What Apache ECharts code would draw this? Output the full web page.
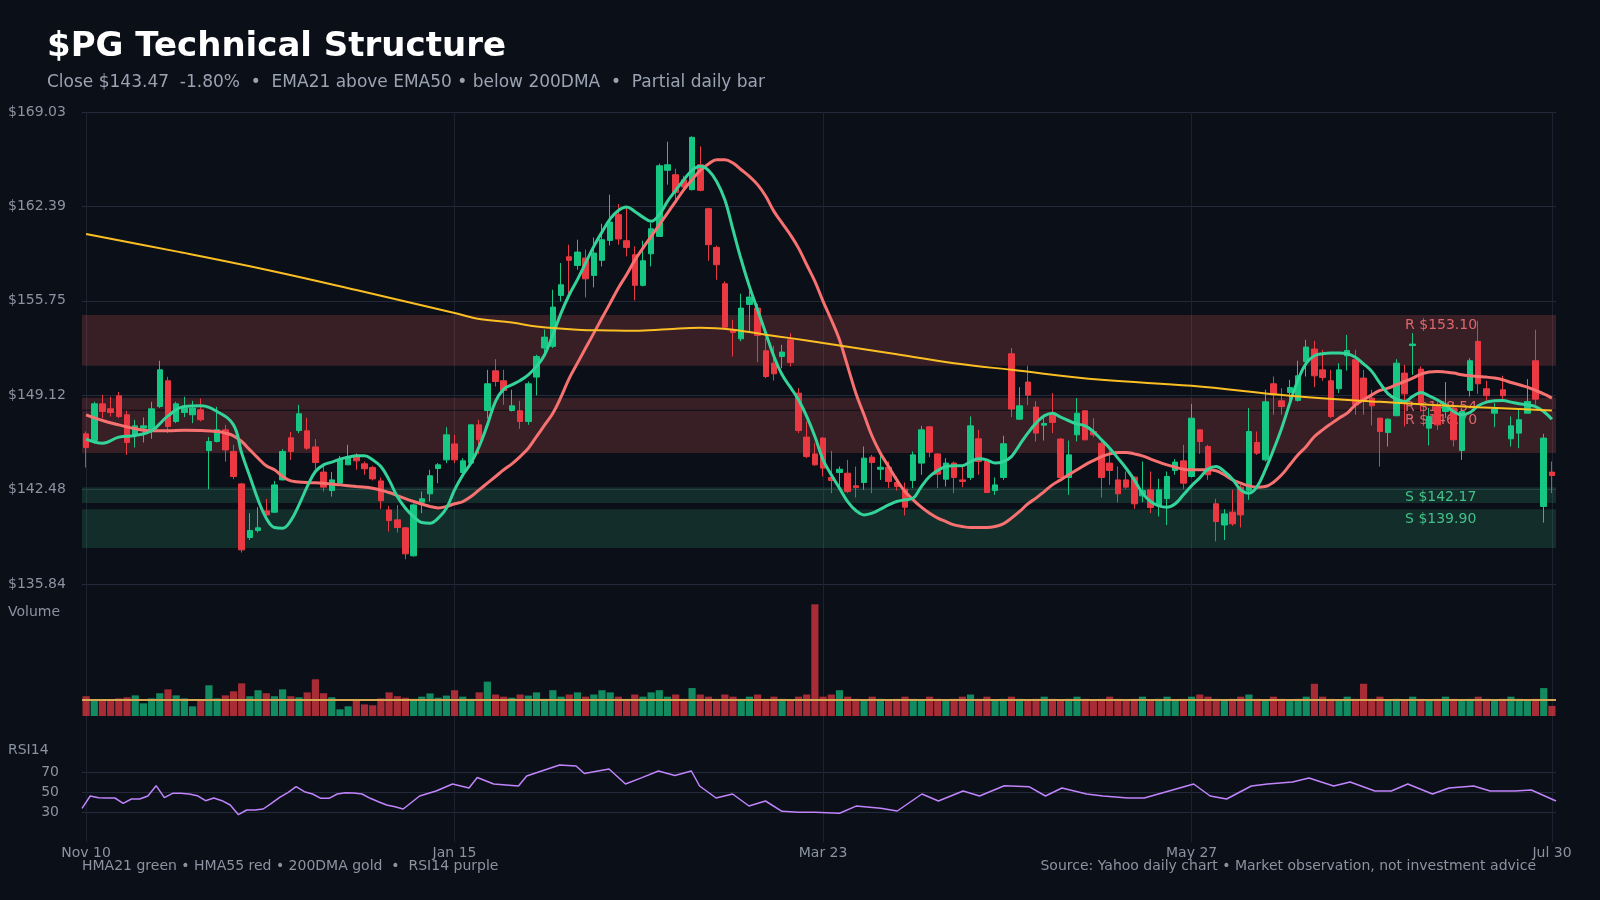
<!DOCTYPE html>
<html><head><meta charset="utf-8">
<script src="https://cdn.jsdelivr.net/npm/echarts@6.0.0/dist/echarts.min.js"></script>
<style>html,body{margin:0;padding:0;background:#0b0f17;}#chart{width:1600px;height:900px;}</style>
</head><body><div id="chart"></div>
<script>
// ---------- DATA ----------
const titleText = '$PG Technical Structure';
const subtitleText = 'Close $143.47  -1.80%  \u2022  EMA21 above EMA50 \u2022 below 200DMA  \u2022  Partial daily bar';
const legendText = 'HMA21 green \u2022 HMA55 red \u2022 200DMA gold  \u2022  RSI14 purple';
const sourceText = 'Source: Yahoo daily chart \u2022 Market observation, not investment advice';
const startDate = '2025-11-10', endDate = '2026-07-30';
const holidays = ['2025-11-27','2025-12-25','2026-01-01','2026-01-19','2026-02-16','2026-04-03','2026-05-25','2026-06-19','2026-07-03'];
const priceTicks = [135.84, 142.48, 149.12, 155.75, 162.39, 169.03];
const rsiTicks = [30, 50, 70];

// [open, high, low, close]
const ohlc = [
[146.40,146.57,144.03,145.44],[145.93,148.65,145.90,148.51],[148.51,149.14,147.50,147.97],[148.16,149.00,147.62,147.90],[149.07,149.35,147.50,147.62],
[147.74,148.02,144.92,145.79],[146.28,147.39,145.44,146.96],[146.80,147.55,145.79,146.96],[146.63,148.65,146.05,148.16],[148.32,151.54,148.21,150.90],
[150.13,150.41,146.45,146.92],[147.27,148.65,147.15,148.51],[147.90,149.00,147.57,148.21],[147.74,148.72,147.15,148.21],[148.09,148.88,147.27,147.39],
[145.23,146.17,142.51,145.86],[145.86,148.30,145.79,146.68],[146.68,147.03,144.45,145.27],[145.16,145.63,143.21,143.40],[142.88,142.95,138.05,138.24],
[139.11,140.82,138.94,139.60],[139.60,141.24,139.46,139.79],[140.98,141.83,140.58,140.70],[140.89,143.09,140.82,142.81],[143.16,145.32,143.12,145.16],
[146.12,146.54,144.57,145.16],[146.63,148.44,146.45,147.81],[146.61,147.53,145.27,145.39],[145.48,146.03,143.91,144.38],[143.71,144.34,142.34,142.65],
[142.41,143.71,141.99,143.16],[142.93,144.85,142.88,144.57],[144.22,145.63,144.22,144.80],[144.80,145.04,143.87,144.50],[144.29,144.45,143.52,143.94],
[144.03,144.15,143.12,143.23],[143.09,143.33,141.12,141.69],[141.05,141.33,139.53,140.30],[140.35,141.39,139.46,139.81],[139.79,139.85,137.58,137.96],
[137.82,141.50,137.77,141.40],[141.59,142.34,140.82,141.83],[142.18,143.87,141.64,143.45],[143.96,144.34,142.93,144.22],[144.57,146.87,144.34,146.33],
[145.69,146.33,144.34,144.57],[143.68,144.69,143.59,144.50],[144.34,147.05,144.29,147.03],[147.03,147.39,144.99,145.98],[148.04,150.90,147.46,149.92],
[150.83,151.65,149.73,150.08],[150.13,150.90,148.44,149.45],[148.04,149.50,147.97,148.37],[148.02,148.72,146.75,147.27],[147.27,150.08,147.03,149.92],
[150.39,151.96,149.10,151.84],[152.43,153.72,151.89,153.20],[152.55,156.53,152.43,155.31],[156.13,158.41,155.71,156.88],[158.85,159.70,156.13,158.60],
[158.24,160.05,157.94,159.18],[158.76,159.35,155.99,157.30],[157.54,160.21,156.70,159.11],[158.60,161.17,158.17,160.05],[160.00,163.21,159.65,161.29],
[161.81,162.56,159.70,160.10],[159.98,162.32,158.88,159.51],[158.99,159.58,155.78,156.84],[156.84,159.98,156.77,158.57],[159.06,161.22,158.17,160.82],
[160.28,165.40,160.24,165.25],[164.93,166.94,163.92,165.32],[164.62,165.04,162.86,163.38],[164.27,164.55,163.61,163.75],[163.57,167.32,163.52,167.25],
[165.32,166.61,163.45,163.52],[162.23,162.30,158.57,159.70],[159.51,159.63,157.23,158.29],[156.95,157.12,153.76,153.90],[153.67,154.42,151.84,153.53],
[153.08,156.25,152.90,155.24],[155.50,156.46,153.60,156.02],[155.24,155.55,151.44,153.32],[152.24,153.13,150.32,150.43],[151.37,152.59,150.15,150.62],
[151.84,152.66,151.02,152.15],[153.01,153.48,151.14,151.42],[149.26,149.61,146.45,146.63],[146.17,147.27,144.69,144.80],[144.99,145.74,144.15,144.22],
[146.10,146.15,143.40,143.99],[143.33,145.20,142.23,143.12],[143.68,144.10,142.58,143.91],[143.63,144.57,142.23,142.34],[142.74,144.10,141.92,142.62],
[142.98,145.51,142.46,144.69],[144.76,144.92,142.23,144.38],[143.91,144.97,143.16,144.05],[144.05,144.45,142.58,143.05],[142.98,143.40,142.41,142.70],
[142.51,142.98,140.66,141.24],[143.12,145.16,142.58,144.92],[144.34,146.96,143.52,146.68],[146.89,146.95,144.76,145.11],[144.99,145.04,142.58,143.56],
[143.21,144.69,142.69,144.34],[144.34,144.45,142.23,143.33],[143.16,144.10,142.65,143.05],[143.33,147.62,143.16,146.96],[146.05,146.68,143.52,144.45],
[144.45,144.52,142.25,142.27],[142.41,143.33,142.11,142.81],[143.33,146.26,143.16,145.70],[152.03,152.43,147.57,148.14],[147.43,149.68,147.39,148.37],
[150.04,151.19,148.42,149.12],[148.28,148.70,145.86,146.45],[147.01,147.74,145.93,147.13],[147.74,149.26,146.45,147.20],[146.03,146.10,143.28,143.33],
[143.33,145.93,142.11,144.92],[146.33,148.91,145.86,147.85],[148.02,148.05,145.95,145.98],[146.56,147.50,146.17,146.33],[145.74,145.98,141.92,143.33],
[144.34,145.51,142.81,143.82],[143.16,144.10,141.57,142.18],[143.16,143.75,142.53,142.65],[143.35,143.40,141.12,141.48],[142.04,144.45,141.59,142.41],
[142.46,143.75,140.82,141.22],[141.33,143.24,140.59,142.46],[141.85,143.75,139.99,143.40],[143.82,144.62,143.52,144.41],[144.50,145.63,142.51,142.93],
[143.40,148.51,143.33,147.50],[146.68,146.70,144.99,145.86],[145.51,145.63,143.16,143.52],[141.48,141.83,138.83,140.23],[139.99,141.10,138.94,140.77],
[140.89,142.46,139.93,140.07],[142.65,142.81,139.81,140.70],[142.41,148.21,141.76,146.56],[145.79,146.56,144.92,145.04],[144.57,149.50,144.45,148.65],
[149.92,150.43,147.74,149.14],[148.72,149.61,147.74,148.32],[149.31,150.20,148.28,149.66],[148.75,151.54,148.67,150.48],[151.49,153.01,150.43,152.50],
[152.36,152.94,149.68,150.48],[150.90,152.31,150.13,150.36],[150.13,150.90,147.50,147.62],[149.57,151.37,149.26,150.90],[151.89,153.36,150.85,152.26],
[151.61,152.31,147.74,148.44],[150.32,150.90,147.74,148.67],[148.91,149.50,146.99,148.37],[147.50,147.55,144.10,146.56],[146.49,147.50,145.51,147.43],
[147.67,151.65,147.67,151.37],[150.67,151.26,146.92,149.21],[152.61,153.48,150.55,152.71],[150.95,151.14,147.97,148.56],[146.80,148.21,145.58,147.62],
[148.32,148.67,146.68,147.03],[147.97,150.04,147.50,148.32],[148.21,148.67,145.51,145.98],[145.23,148.21,144.57,147.97],[149.45,151.72,149.03,151.54],
[152.90,154.35,149.21,149.92],[149.57,150.13,148.67,149.08],[147.85,148.56,146.87,148.14],[149.50,150.48,148.75,149.08],[146.05,147.62,145.51,146.96],
[146.45,148.09,145.39,147.39],[147.85,150.25,147.85,148.67],[151.54,153.72,148.44,148.84],[141.29,146.40,140.16,146.10],[143.71,144.45,142.23,143.47]
];

// volume, millions of shares
const volumeM = [
9.2,7.3,7.3,7.3,8.2,8.7,9.6,5.9,8.2,10.6, 12.4,9.6,8.2,4.5,7.3,14.3,8.2,9.6,11.5,15.2,
9.2,12.0,10.6,9.2,12.4,9.2,8.7,11.0,17.1,10.6, 8.7,3.1,4.5,7.3,5.4,5.0,8.2,11.0,9.2,8.5,
8.0,9.0,10.5,8.5,9.5,12.0,9.0,8.0,11.0,16.0, 10.0,9.0,8.5,10.0,9.5,11.0,8.0,12.0,9.0,10.0,
11.0,9.0,10.0,12.0,11.0,9.0,8.0,10.0,9.0,11.0, 12.0,9.0,10.0,8.0,13.0,10.0,9.0,8.0,10.0,9.0,
8.0,9.0,10.0,8.0,9.0,8.0,7.0,9.0,10.0,52.0, 9.0,10.0,12.0,9.0,8.0,7.0,9.0,8.0,7.0,8.0,
9.0,8.0,7.0,9.0,8.0,7.0,8.0,9.0,10.0,8.0, 9.0,7.0,8.0,9.0,8.0,7.0,8.0,9.0,8.0,7.0,
8.0,9.0,8.0,7.0,8.0,9.0,8.0,7.0,8.0,9.0, 7.0,8.0,9.0,7.0,8.0,9.0,10.0,9.0,8.0,7.0,
8.0,9.0,10.0,8.0,7.0,9.0,8.0,7.0,8.0,9.0, 15.0,9.0,8.0,7.0,9.0,8.0,15.0,8.0,9.0,7.0,
8.0,7.0,9.0,8.0,7.0,8.0,9.0,8.0,7.0,8.0, 9.0,8.0,7.0,8.0,9.0,8.0,7.0,8.0,13.0,4.7
];
const volAvgM = 7.45;

// [bar index, value]
const hma21 = [[0,146.03],[2,145.74],[4,146.17],[6,146.28],[8,146.61],[10,147.66],[12,148.32],[14,148.37],[16,147.97],[18,147.03],[19,145.04],[20,143.40],[21,141.76],[22,140.47],[23,139.81],[24,139.76],[25,140.30],[26,141.40],[27,142.69],[28,143.75],[29,144.22],[30,144.41],[31,144.62],[32,144.76],[33,144.85],[34,144.85],[35,144.57],[36,144.10],[37,143.16],[38,141.99],[39,141.17],[40,140.58],[41,140.16],[42,140.12],[43,140.47],[44,141.17],[45,142.46],[46,143.51],[47,144.34],[48,145.51],[49,147.03],[50,148.68],[51,149.54],[52,149.85],[53,150.15],[54,150.55],[55,151.14],[56,151.96],[57,153.37],[58,154.89],[59,156.18],[60,157.24],[61,158.41],[62,159.58],[63,160.59],[64,161.52],[65,162.11],[66,162.35],[67,162.04],[68,161.64],[69,161.34],[70,161.81],[71,162.75],[72,163.52],[73,164.27],[74,164.93],[75,165.21],[76,164.93],[77,164.15],[78,162.86],[79,160.75],[80,158.64],[81,156.77],[82,155.12],[83,153.48],[84,151.84],[85,150.55],[86,149.68],[87,148.79],[88,147.62],[89,146.21],[90,144.57],[91,143.52],[92,142.58],[93,141.64],[94,141.01],[95,140.70],[96,140.82],[97,141.10],[98,141.40],[99,141.64],[100,141.76],[101,141.88],[102,142.69],[103,143.40],[104,143.82],[105,144.10],[106,144.15],[107,144.15],[108,144.45],[109,144.64],[110,144.57],[111,144.35],[112,144.45],[113,144.80],[114,145.63],[115,146.45],[116,147.15],[117,147.66],[118,147.85],[119,147.57],[120,147.32],[121,147.10],[122,146.96],[123,146.56],[124,145.98],[125,145.39],[126,144.69],[127,143.98],[128,143.16],[129,142.23],[130,141.64],[131,141.33],[132,141.24],[133,141.48],[134,142.11],[135,142.75],[136,143.30],[137,143.92],[138,144.10],[139,143.75],[140,143.21],[141,142.46],[142,142.23],[143,142.69],[144,143.87],[145,145.27],[146,146.80],[147,148.56],[148,150.20],[149,151.37],[150,151.89],[151,152.03],[152,152.08],[153,152.08],[154,152.03],[155,151.79],[156,151.32],[157,150.79],[158,149.96],[159,149.21],[160,148.84],[161,148.68],[162,149.03],[163,149.31],[164,149.07],[165,148.79],[166,148.44],[167,147.97],[168,147.74],[169,147.90],[170,148.37],[171,148.63],[172,148.72],[173,148.75],[174,148.63],[175,148.51],[176,148.44],[177,148.32],[178,147.97],[179,147.43]];
const hma55 = [[0,147.73],[2,147.34],[4,147.03],[6,146.75],[8,146.61],[10,146.61],[12,146.66],[14,146.64],[16,146.56],[17,146.45],[18,146.26],[19,145.86],[20,145.27],[21,144.69],[22,144.15],[23,143.87],[24,143.40],[25,143.09],[27,142.98],[29,142.93],[31,142.81],[33,142.69],[35,142.58],[37,142.27],[38,142.06],[40,141.64],[42,141.29],[43,141.19],[44,141.29],[45,141.48],[46,141.64],[47,141.99],[48,142.46],[49,142.93],[50,143.40],[51,143.87],[52,144.29],[53,144.80],[54,145.39],[55,146.20],[56,147.03],[57,147.85],[58,149.00],[59,150.30],[60,151.37],[61,152.43],[62,153.48],[63,154.54],[64,155.59],[65,156.65],[66,157.59],[67,158.60],[68,159.46],[69,160.28],[70,161.10],[71,161.92],[72,162.75],[73,163.57],[74,164.27],[75,164.93],[76,165.37],[77,165.68],[78,165.68],[79,165.44],[80,164.97],[81,164.50],[82,163.92],[83,163.10],[84,162.04],[85,161.22],[86,160.40],[87,159.46],[88,158.29],[89,157.12],[90,155.71],[91,154.42],[92,153.01],[93,151.14],[94,149.26],[95,147.74],[96,146.21],[97,145.04],[98,144.10],[99,143.16],[100,142.34],[101,141.76],[102,141.24],[103,140.82],[104,140.47],[105,140.23],[106,140.00],[107,139.88],[108,139.81],[110,139.81],[111,139.88],[112,140.07],[113,140.47],[114,140.94],[115,141.48],[116,141.88],[117,142.34],[118,142.81],[119,143.16],[120,143.52],[121,143.87],[122,144.22],[123,144.52],[124,144.80],[125,144.99],[126,145.09],[127,145.09],[128,144.99],[129,144.85],[130,144.62],[131,144.41],[132,144.22],[133,144.05],[134,143.91],[135,143.87],[137,143.87],[138,143.80],[139,143.52],[140,143.16],[141,142.93],[142,142.74],[143,142.65],[144,142.69],[145,143.00],[146,143.52],[147,144.22],[148,144.92],[149,145.51],[150,146.21],[151,146.68],[152,147.10],[153,147.50],[154,147.85],[155,148.44],[156,148.79],[157,149.14],[158,149.45],[159,149.61],[160,149.85],[161,150.08],[162,150.32],[163,150.60],[164,150.74],[165,150.79],[166,150.74],[167,150.67],[168,150.55],[169,150.48],[170,150.43],[171,150.39],[172,150.32],[173,150.20],[174,150.01],[175,149.85],[176,149.68],[177,149.45],[178,149.21],[179,148.91]];
const dma200 = [[0,160.45],[11,159.23],[22,157.94],[33,156.51],[45,154.89],[48,154.47],[52,154.23],[55,153.95],[60,153.72],[64,153.67],[67,153.65],[71,153.76],[75,153.86],[79,153.72],[83,153.37],[86,153.13],[90,152.78],[98,152.08],[106,151.37],[113,150.90],[124,150.20],[135,149.78],[147,149.08],[158,148.65],[170,148.27],[179,148.04]];
const rsi14 = [[0,33.7],[1,46],[2,44.3],[3,44],[4,44],[5,38.7],[6,43],[7,43],[8,46],[9,56.3],[10,44.3],[11,48.7],[12,48.7],[13,48],[14,46.3],[15,41.3],[16,44],[17,41.3],[18,37],[19,27.3],[20,32],[21,32],[22,33],[23,38.7],[24,44.7],[25,49.3],[26,55.3],[27,50.3],[28,48],[29,43.7],[30,43.7],[31,48],[32,49.3],[33,49],[34,48],[35,43.7],[36,40.3],[37,37],[38,35.3],[39,33],[41,46],[43,51],[45,58],[47,54],[48,64.5],[50,58],[53,56],[54,66],[58,77],[60,76],[61,68.5],[64,73],[66,58],[68,64.4],[70,71],[72,66.5],[74,71],[75,56],[77,44],[79,48],[81,36],[83,41],[85,30.7],[87,29.8],[89,29.8],[92,28.7],[94,35.9],[97,33.8],[99,31],[102,48],[104,41],[107,51],[109,46],[112,56.3],[115,55.3],[117,46],[119,54],[122,48],[124,46],[127,44],[129,44],[132,51],[135,58],[137,46],[139,43],[142,56],[144,58],[147,60],[149,64],[152,56],[154,60],[157,51],[159,51],[161,58],[164,48],[166,54],[169,56],[171,51],[174,51],[176,52],[179,41]];

const resistanceLabels = ['R $153.10', 'R $148.54', 'R $146.70'];
const resistanceBands = [[151.19, 154.76], [148.09, 148.93], [145.06, 148.02]];
const supportLabels = ['S $142.17', 'S $139.90'];
const supportBands = [[141.54, 142.64], [138.37, 141.09]];

// ---------- BUILD ----------
const MONTHS = ['Jan','Feb','Mar','Apr','May','Jun','Jul','Aug','Sep','Oct','Nov','Dec'];
function tradingDays(a, b, hol) {
  const out = []; const d = new Date(a + 'T00:00:00Z'); const end = new Date(b + 'T00:00:00Z');
  while (d <= end) {
    const iso = d.toISOString().slice(0, 10); const wd = d.getUTCDay();
    if (wd !== 0 && wd !== 6 && hol.indexOf(iso) < 0) out.push(MONTHS[d.getUTCMonth()] + ' ' + d.getUTCDate());
    d.setUTCDate(d.getUTCDate() + 1);
  }
  return out;
}
const categories = tradingDays(startDate, endDate, holidays);
const N = categories.length;
const showIdx = (i) => i % 45 === 0 || i === N - 1;

const UP = '#16c784', DOWN = '#ea3943';
const GRIDC = '#242a39', VGRIDC = '#1d2230', LABELC = '#8b93a1';
const FONT = 'DejaVu Sans';
const FS = 14;

const candleData = ohlc.map(r => [r[0], r[3], r[2], r[1]]);
const volData = volumeM.map((v, i) => ({ value: v, itemStyle: { color: ohlc[i][3] >= ohlc[i][0] ? 'rgba(22,199,132,0.68)' : 'rgba(234,57,67,0.7)' } }));

function band(lo, hi, label, fill, lcolor) {
  return [{ yAxis: hi, itemStyle: { color: fill },
            label: { show: true, position: ['89.76%', 3], formatter: label, color: lcolor, fontSize: FS, fontFamily: FONT } },
          { yAxis: lo }];
}
const areas = [];
resistanceBands.forEach((b, i) => areas.push(band(b[0], b[1], resistanceLabels[i], 'rgba(255,107,107,0.18)', 'rgba(240,110,115,0.9)')));
supportBands.forEach((b, i) => areas.push(band(b[0], b[1], supportLabels[i], 'rgba(61,220,151,0.15)', 'rgba(70,200,140,0.95)')));

const hidX = (gi, bg) => ({ type: 'category', gridIndex: gi, data: categories, boundaryGap: bg,
  axisLine: { show: false }, axisTick: { show: false }, axisLabel: { show: false }, splitLine: { show: false } });

const txt = (text, pos, size, color, weight) => Object.assign({ text, padding: 0,
  textStyle: { color, fontSize: size, fontWeight: weight || 'normal', fontFamily: FONT } }, pos);

const option = {
  backgroundColor: '#0b0f17',
  animation: false,
  textStyle: { fontFamily: FONT },
  title: [
    txt(titleText, { left: 47, top: 30 }, 34, '#ffffff', 'bold'),
    txt(subtitleText, { left: 47, top: 74 }, 17, '#9aa3b2'),
    txt('Volume', { left: 8, top: 605 }, FS, LABELC),
    txt('RSI14', { left: 8, top: 743 }, FS, LABELC),
    txt(legendText, { left: 82, top: 859 }, FS, LABELC),
    txt(sourceText, { right: 64, top: 859 }, FS, LABELC)
  ],
  grid: [
    { left: 82, right: 44, top: 112, height: 472 },
    { left: 82, right: 44, top: 600, height: 116 },
    { left: 82, right: 44, top: 772, height: 40 },
    { left: 86, right: 48, top: 112, height: 730 }
  ],
  xAxis: [
    hidX(0, true), hidX(1, true), hidX(2, false),
    { type: 'category', gridIndex: 3, data: categories, boundaryGap: false,
      axisLine: { show: false }, axisTick: { show: false },
      axisLabel: { interval: (i) => showIdx(i), color: LABELC, fontSize: FS, margin: 4, fontFamily: FONT },
      splitLine: { show: true, interval: (i) => showIdx(i), lineStyle: { color: VGRIDC, width: 1 } } }
  ],
  yAxis: [
    { type: 'value', gridIndex: 0, min: priceTicks[0], max: priceTicks[priceTicks.length - 1],
      interval: (priceTicks[priceTicks.length - 1] - priceTicks[0]) / (priceTicks.length - 1),
      axisLine: { show: false }, axisTick: { show: false },
      axisLabel: { color: LABELC, fontSize: FS, align: 'left', margin: 74, fontFamily: FONT,
        formatter: (v) => '$' + v.toFixed(2) },
      splitLine: { lineStyle: { color: GRIDC, width: 1 } } },
    { type: 'value', gridIndex: 1, min: 0, max: 54, show: false, splitLine: { show: false } },
    { type: 'value', gridIndex: 2, min: rsiTicks[0], max: rsiTicks[2], interval: rsiTicks[1] - rsiTicks[0],
      axisLine: { show: false }, axisTick: { show: false },
      axisLabel: { color: LABELC, fontSize: FS, margin: 23, fontFamily: FONT },
      splitLine: { lineStyle: { color: GRIDC, width: 1 } } },
    { type: 'value', gridIndex: 3, min: 0, max: 1, show: false, splitLine: { show: false } }
  ],
  series: [
    { type: 'line', xAxisIndex: 3, yAxisIndex: 3, data: [], z: 0 },
    { name: 'zones', type: 'line', xAxisIndex: 0, yAxisIndex: 0, data: [], z: 1, silent: true,
      markArea: { silent: true, data: areas } },
    { name: 'PG', type: 'candlestick', xAxisIndex: 0, yAxisIndex: 0, data: candleData, z: 3, barWidth: 6,
      itemStyle: { color: UP, color0: DOWN, borderColor: UP, borderColor0: DOWN, borderWidth: 1 } },
    { name: 'HMA55', type: 'line', xAxisIndex: 0, yAxisIndex: 0, data: hma55, smooth: 0.4, symbol: 'none', z: 4,
      lineStyle: { color: '#f87171', width: 3 } },
    { name: 'HMA21', type: 'line', xAxisIndex: 0, yAxisIndex: 0, data: hma21, smooth: 0.4, symbol: 'none', z: 5,
      lineStyle: { color: '#34d399', width: 3 } },
    { name: '200DMA', type: 'line', xAxisIndex: 0, yAxisIndex: 0, data: dma200, smooth: 0.4, symbol: 'none', z: 6,
      lineStyle: { color: '#fbbf24', width: 2 } },
    { name: 'Volume', type: 'bar', xAxisIndex: 1, yAxisIndex: 1, data: volData, barCategoryGap: '12%', z: 2,
      markLine: { silent: true, symbol: 'none', label: { show: false },
        lineStyle: { color: '#d6a750', width: 2, type: 'solid' }, data: [{ yAxis: volAvgM }] } },
    { name: 'RSI14', type: 'line', xAxisIndex: 2, yAxisIndex: 2, data: rsi14, symbol: 'none', clip: false, z: 3,
      lineStyle: { color: '#c084fc', width: 1.5 } }
  ]
};
const chart = echarts.init(document.getElementById('chart'), null, { renderer: 'canvas' });
chart.setOption(option);
</script></body></html>
